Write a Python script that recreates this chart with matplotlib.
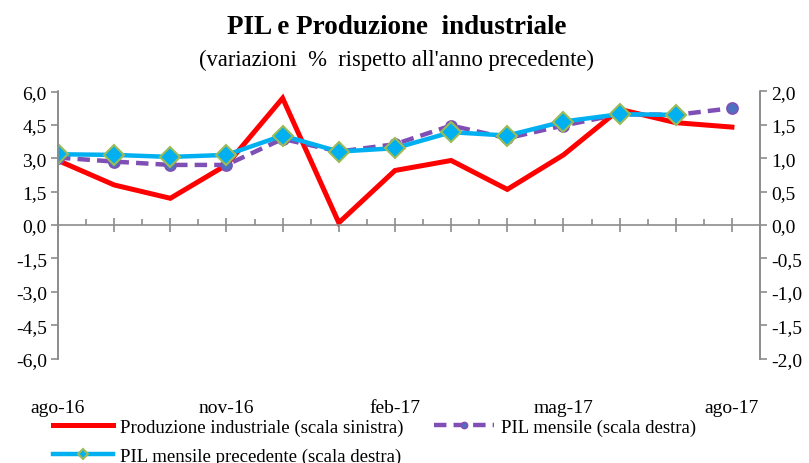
import matplotlib.pyplot as plt
from matplotlib.ticker import FuncFormatter
import numpy as np

months = ["ago-16", "set-16", "ott-16", "nov-16", "dic-16", "gen-17", "feb-17",
          "mar-17", "apr-17", "mag-17", "giu-17", "lug-17", "ago-17"]
# Produzione industriale (scala sinistra)
prod_ind = [2.9, 1.8, 1.2, 2.7, 5.7, 0.1, 2.45, 2.9, 1.6, 3.15, 5.2, 4.6, 4.4]
# PIL mensile (scala destra)
pil_mensile = [1.01, 0.95, 0.90, 0.90, 1.29, 1.10, 1.21, 1.49, 1.30, 1.49, 1.66, 1.65, 1.75]
# PIL mensile precedente (scala destra), no value for ago-17
pil_prec = [1.06, 1.05, 1.02, 1.05, 1.34, 1.10, 1.15, 1.39, 1.34, 1.55, 1.66, 1.65]

plt.rcParams['font.family'] = ['Liberation Serif', 'DejaVu Serif']

fig = plt.figure(figsize=(8.09, 4.64), dpi=100)
ax = fig.add_axes([58 / 809, 1 - 359.5 / 464, (760 - 58) / 809, (359.5 - 92.5) / 464])
ax2 = ax.twinx()

x = np.arange(len(months))
gray = '#8c8c8c'

l1, = ax.plot(x, prod_ind, color='#ff0000', lw=3.6, solid_joinstyle='miter',
              label='Produzione industriale (scala sinistra)')
l2, = ax2.plot(x, pil_mensile, color='#7f4fb5', lw=3.2, ls=(0, (2.8, 1.6)),
               marker='o', ms=8, mfc='#4f6fc0', mec='#7f4fb5', mew=1.2,
               label='PIL mensile (scala destra)')
l3, = ax2.plot(np.arange(len(pil_prec)), pil_prec, color='#00b0f0', lw=3.2,
               marker='D', ms=10, mfc='#00b0f0', mec='#9bbb59', mew=1.5,
               label='PIL mensile precedente (scala destra)')

ax.set_xlim(0, 12.5)
ax.set_ylim(-6, 6)
ax2.set_ylim(-2, 2)
ax.set_yticks(np.arange(-6, 6.1, 1.5))
ax2.set_yticks(np.arange(-2, 2.1, 0.5))
fmt = FuncFormatter(lambda v, p: f"{v:.1f}".replace('.', ','))
ax.yaxis.set_major_formatter(fmt)
ax2.yaxis.set_major_formatter(fmt)

ax.set_xticks(x)
ax.set_xticklabels([m if i % 3 == 0 else '' for i, m in enumerate(months)])
ax.set_xticks(x[:-1] + 0.5, minor=True)

for a in (ax, ax2):
    for s in a.spines.values():
        s.set_color(gray)
        s.set_linewidth(1.2)
    a.spines['bottom'].set_visible(False)
ax2.spines['top'].set_visible(False)
ax.spines['top'].set_position(('data', 0))

ax.tick_params(axis='x', which='major', bottom=False, top=True, labelbottom=True,
               labeltop=False, direction='inout', length=10, width=1.2,
               color=gray, labelsize=14, pad=24.5)
ax.tick_params(axis='x', which='minor', bottom=False, top=True,
               direction='out', length=4, width=1.2, color=gray)
ax.tick_params(axis='y', direction='out', length=5, width=1.2, color=gray,
               labelsize=14, pad=3)
ax2.tick_params(axis='y', direction='out', length=5, width=1.2, color=gray,
                labelsize=14, pad=3)

fig.text(0.49, 1 - 28 / 464, 'PIL e Produzione  industriale', ha='center',
         va='center', fontsize=19.5, fontweight='bold')
fig.text(0.49, 1 - 60 / 464, "(variazioni  %  rispetto all'anno precedente)",
         ha='center', va='center', fontsize=16.3)

fig.legend([l1, l3, l2], [l1.get_label(), l3.get_label(), l2.get_label()],
           loc='upper left', bbox_to_anchor=(45 / 809, 1 - 412 / 464), ncol=2,
           frameon=False, fontsize=13.5, handlelength=3.2, handletextpad=0.4,
           columnspacing=1.6, labelspacing=0.62, borderaxespad=0,
           markerscale=0.55)

fig.savefig('out.png', dpi=100)
